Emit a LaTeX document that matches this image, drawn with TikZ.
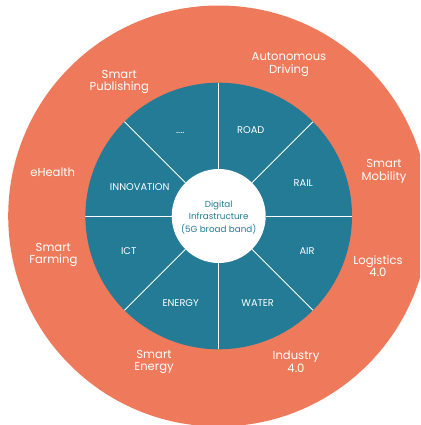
\documentclass[tikz,border=0pt]{standalone}
\usepackage{fontspec}
\setmainfont{Poppins}
\usetikzlibrary{calc}
\definecolor{outerorange}{HTML}{EF7A5B}
\definecolor{innerteal}{HTML}{237B96}
\tikzset{
  outerlabel/.style={text=white, font=\fontsize{11.6}{12.7}\selectfont, align=center, inner sep=0pt},
  innerlabel/.style={text=white, font=\fontsize{9.8}{10}\selectfont, inner sep=0pt},
  centerlabel/.style={text=innerteal, font=\fontsize{8.8}{12.5}\selectfont, align=center, inner sep=0pt},
  divider/.style={draw=white, line width=0.8pt}
}
\begin{document}
\begin{tikzpicture}[x=1pt,y=-1pt]
\useasboundingbox (0,0) rectangle (420,425);
\clip (0,0) rectangle (420,425);
\fill[white] (0,0) rectangle (420,425);
\coordinate (c) at (218.7,216);
\fill[outerorange] (c) circle (210.5);
\fill[innerteal] (c) circle (133.3);
\foreach \a in {0,45,...,315} {
  \draw[divider] ($(c)+(\a:47)$) -- ($(c)+(\a:133.3)$);
}
\fill[white] (c) circle (47);
\node[centerlabel] (centre) at (218.7,217.3) {Digital\\Infrastructure\\(5G broad band)};
% inner labels
\node[innerlabel] (dots) at (180.3,132.7) {....};
\node[innerlabel] (road) at (250.7,130) {ROAD};
\node[innerlabel] (rail) at (303.3,183) {RAIL};
\node[innerlabel] (innov) at (139.7,187) {INNOVATION};
\node[innerlabel] (ict) at (128.7,250.7) {ICT};
\node[innerlabel] (air) at (307,250.7) {AIR};
\node[innerlabel] (energy) at (180.7,302.7) {ENERGY};
\node[innerlabel] (water) at (257.7,302.7) {WATER};
% outer labels
\node[outerlabel] (auto) at (289,64.7) {Autonomous\\Driving};
\node[outerlabel] (pub) at (119.3,82) {Smart\\Publishing};
\node[outerlabel] (ehealth) at (52.7,172.7) {eHealth};
\node[outerlabel] (mob) at (384,171.7) {Smart\\Mobility};
\node[outerlabel] (farm) at (53.3,255) {Smart\\Farming};
\node[outerlabel] (log) at (378,266) {Logistics\\4.0};
\node[outerlabel] (senergy) at (154,362) {Smart\\Energy};
\node[outerlabel] (ind) at (296,362) {Industry\\4.0};
\end{tikzpicture}
\end{document}
